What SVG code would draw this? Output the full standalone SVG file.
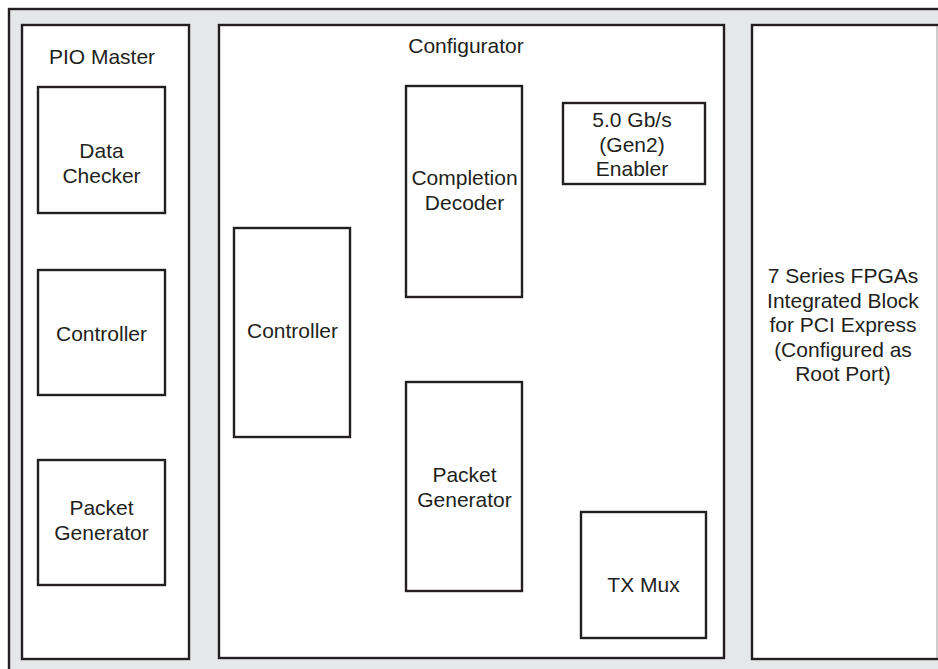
<svg xmlns="http://www.w3.org/2000/svg" width="938" height="669" viewBox="0 0 938 669">
<style>
.box{fill:#ffffff;stroke:#231f20;stroke-width:2.4}
.bg{fill:#e6e7e8;stroke:#231f20;stroke-width:2.4}
text{font-family:"Liberation Sans",Arial,Helvetica,sans-serif;font-size:21px;fill:#231f20;text-anchor:middle}
</style>
<rect class="bg" x="9" y="9" width="940" height="670"/>
<g id="pio-master">
<rect class="box" x="22" y="25" width="167" height="634"/>
<text x="102" y="64">PIO Master</text>
</g>
<g id="data-checker">
<rect class="box" x="38" y="87" width="127" height="126"/>
<text x="101.5" y="157.5">Data</text>
<text x="101.5" y="182.5">Checker</text>
</g>
<g id="pio-controller">
<rect class="box" x="38" y="270" width="127" height="125"/>
<text x="101.5" y="341">Controller</text>
</g>
<g id="pio-packet-generator">
<rect class="box" x="38" y="460" width="127" height="125"/>
<text x="101.5" y="515">Packet</text>
<text x="101.5" y="540">Generator</text>
</g>
<g id="configurator">
<rect class="box" x="219" y="25" width="505" height="633"/>
<text x="466" y="53">Configurator</text>
</g>
<g id="cfg-controller">
<rect class="box" x="234" y="228" width="116" height="209"/>
<text x="292.5" y="338">Controller</text>
</g>
<g id="completion-decoder">
<rect class="box" x="406" y="86" width="116" height="211"/>
<text x="464.5" y="185">Completion</text>
<text x="464.5" y="210">Decoder</text>
</g>
<g id="gen2-enabler">
<rect class="box" x="563" y="103" width="142" height="81"/>
<text x="632" y="127">5.0 Gb/s</text>
<text x="632" y="151.5">(Gen2)</text>
<text x="632" y="176">Enabler</text>
</g>
<g id="cfg-packet-generator">
<rect class="box" x="406" y="382" width="116" height="209"/>
<text x="464.5" y="482">Packet</text>
<text x="464.5" y="507">Generator</text>
</g>
<g id="tx-mux">
<rect class="box" x="581" y="512" width="125" height="126"/>
<text x="643.5" y="592">TX Mux</text>
</g>
<g id="integrated-block">
<rect class="box" x="752" y="25" width="190" height="634"/>
<line x1="937" y1="26" x2="937" y2="658" stroke="#9a9a9a" stroke-width="1"/>
<text x="843" y="283">7 Series FPGAs</text>
<text x="843" y="307.5">Integrated Block</text>
<text x="843" y="332">for PCI Express</text>
<text x="843" y="356.5">(Configured as</text>
<text x="843" y="381">Root Port)</text>
</g>
<g id="connectors"></g>
</svg>
